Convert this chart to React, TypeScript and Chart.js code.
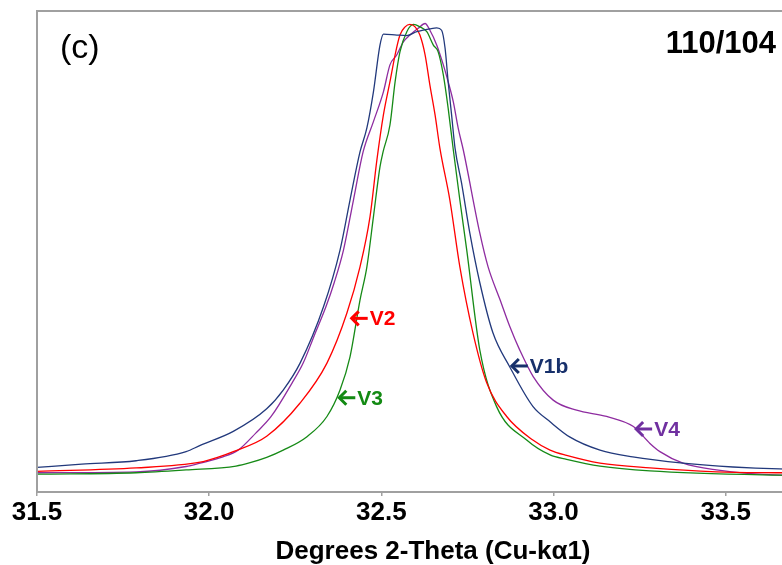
import React, { useEffect, useRef } from "react";
import { Chart, registerables } from "chart.js";

Chart.register(...registerables);

// ---- axis ticks ----
const xTickValues = [31.5, 32.0, 32.5, 33.0, 33.5];
const xTickLabels = ["31.5", "32.0", "32.5", "33.0", "33.5"];

// ---- series names ----
const seriesNames = ["V1b", "V2", "V3", "V4"];

// ---- V1b ----
const xV1b = [31.5, 31.63, 31.788, 31.933, 31.974, 32.07, 32.167, 32.215, 32.264, 32.332, 32.38, 32.409, 32.438, 32.458, 32.477, 32.496, 32.506, 32.545, 32.574, 32.603, 32.641, 32.661, 32.675, 32.685, 32.694, 32.704, 32.714, 32.733, 32.757, 32.786, 32.824, 32.873, 32.94, 32.99, 33.048, 33.135, 33.23, 33.376, 33.521, 33.657, 33.8];
const yV1b = [5.1, 5.8, 6.5, 8.4, 9.7, 12.6, 17.3, 21.2, 26.8, 38.5, 50.3, 60.7, 70.7, 75.7, 83.2, 92.9, 95.2, 95.0, 94.9, 95.7, 96.3, 96.5, 96.0, 92.3, 85.3, 78.4, 71.5, 64.2, 53.8, 43.5, 33.1, 26.0, 17.8, 14.6, 11.4, 8.7, 7.3, 6.0, 5.2, 4.8, 4.7];

// ---- V2 ----
const xV2 = [31.5, 31.788, 31.974, 32.02, 32.07, 32.167, 32.264, 32.342, 32.4, 32.438, 32.467, 32.487, 32.506, 32.525, 32.54, 32.554, 32.569, 32.583, 32.598, 32.612, 32.627, 32.641, 32.656, 32.67, 32.699, 32.728, 32.766, 32.806, 32.864, 32.94, 32.99, 33.038, 33.135, 33.28, 33.473, 33.657, 33.8];
const yV2 = [4.3, 5.0, 6.2, 7.1, 8.4, 11.6, 18.5, 26.8, 37.2, 46.8, 57.2, 69.0, 78.4, 85.3, 90.9, 95.0, 96.7, 97.2, 96.7, 95.0, 90.9, 84.6, 78.4, 71.5, 60.7, 46.8, 33.1, 22.7, 15.7, 10.8, 8.7, 7.6, 6.0, 5.0, 4.2, 4.0, 3.9];

// ---- V3 ----
const xV3 = [31.5, 31.788, 31.933, 32.078, 32.119, 32.167, 32.215, 32.284, 32.342, 32.38, 32.409, 32.438, 32.458, 32.477, 32.496, 32.505, 32.525, 32.54, 32.554, 32.574, 32.593, 32.612, 32.632, 32.651, 32.665, 32.68, 32.694, 32.709, 32.728, 32.748, 32.786, 32.835, 32.922, 32.99, 33.038, 33.135, 33.28, 33.657, 33.8];
const yV3 = [3.7, 4.0, 4.6, 5.4, 6.1, 7.2, 8.7, 11.5, 15.7, 21.2, 28.1, 39.9, 46.8, 57.2, 67.6, 70.7, 76.3, 85.3, 91.5, 95.7, 97.2, 96.7, 95.7, 92.9, 91.5, 86.7, 79.8, 71.1, 60.7, 50.3, 29.5, 17.7, 10.8, 7.7, 6.8, 5.4, 4.4, 3.5, 3.4];

// ---- V4 ----
const xV4 = [31.5, 31.788, 31.933, 31.974, 32.04, 32.084, 32.136, 32.18, 32.241, 32.273, 32.305, 32.339, 32.363, 32.39, 32.419, 32.447, 32.477, 32.506, 32.525, 32.545, 32.564, 32.583, 32.607, 32.627, 32.641, 32.661, 32.68, 32.694, 32.709, 32.723, 32.738, 32.786, 32.81, 32.845, 32.873, 32.902, 32.941, 32.999, 33.067, 33.154, 33.232, 33.28, 33.309, 33.376, 33.473, 33.657, 33.8];
const yV4 = [4.0, 4.2, 5.3, 6.0, 7.3, 8.7, 12.3, 15.7, 22.7, 26.8, 32.5, 38.5, 43.5, 50.3, 60.7, 70.7, 77.0, 83.2, 88.8, 90.9, 93.6, 95.0, 96.4, 97.4, 96.0, 92.9, 88.8, 85.3, 81.1, 75.7, 71.1, 53.8, 46.8, 39.9, 34.4, 29.5, 24.0, 19.1, 17.0, 15.7, 13.6, 10.1, 8.4, 6.0, 4.6, 3.5, 3.4];

const FONT = "'Liberation Sans', Arial, Helvetica, sans-serif";

const lineColors = ["#22397c", "#ff0000", "#168a16", "#8e2ca0"];
const labelColors = ["#17306b", "#ff0000", "#138a13", "#7030a0"];

// label anchors (data coordinates of arrow tips) for V1b, V2, V3, V4
const labelAnchors = {
  x: [32.876, 32.411, 32.375, 33.237],
  y: [26.2, 36.1, 19.6, 13.1],
};

const decorPlugin = {
  id: "decor",
  afterDraw(chart: any) {
    const { ctx, chartArea: a, scales } = chart;
    ctx.save();
    // left and top frame
    ctx.strokeStyle = "#a0a0a0";
    ctx.lineWidth = 2;
    ctx.beginPath();
    ctx.moveTo(a.left, a.bottom);
    ctx.lineTo(a.left, a.top);
    ctx.lineTo(a.right, a.top);
    ctx.stroke();

    // series labels with arrows
    seriesNames.forEach((name, i) => {
      const px = scales.x.getPixelForValue(labelAnchors.x[i]);
      const py = scales.y.getPixelForValue(labelAnchors.y[i]);
      ctx.strokeStyle = labelColors[i];
      ctx.fillStyle = labelColors[i];
      ctx.lineWidth = 3;
      ctx.lineCap = "butt";
      ctx.beginPath();
      ctx.moveTo(px + 1, py);
      ctx.lineTo(px + 17, py);
      ctx.stroke();
      ctx.beginPath();
      ctx.moveTo(px + 8, py - 7);
      ctx.lineTo(px + 1, py);
      ctx.lineTo(px + 8, py + 7);
      ctx.stroke();
      ctx.font = `bold 21px ${FONT}`;
      ctx.textAlign = "left";
      ctx.textBaseline = "middle";
      ctx.fillText(name, px + 19, py + 1);
    });

    // panel label and reflection label
    ctx.fillStyle = "#000";
    ctx.font = `34px ${FONT}`;
    ctx.textAlign = "left";
    ctx.textBaseline = "alphabetic";
    ctx.fillText("(c)", a.left + 23, 58);
    ctx.font = `bold 31px ${FONT}`;
    ctx.textAlign = "right";
    ctx.fillText("110/104", 776, 53);
    ctx.restore();
  },
};

export default function App() {
  const ref = useRef<HTMLCanvasElement | null>(null);

  useEffect(() => {
    if (!ref.current) return;
    const xs = [xV1b, xV2, xV3, xV4];
    const ys = [yV1b, yV2, yV3, yV4];
    const chart = new Chart(ref.current, {
      type: "line",
      data: {
        datasets: seriesNames.map((name, i) => ({
          label: name,
          data: xs[i].map((x, j) => ({ x, y: ys[i][j] })),
          borderColor: lineColors[i],
          borderWidth: 1.3,
          pointRadius: 0,
          fill: false,
          cubicInterpolationMode: "monotone" as const,
        })),
      },
      options: {
        animation: false,
        responsive: false,
        devicePixelRatio: 1,
        layout: { padding: { left: 37, top: 11, right: 1, bottom: 0 } },
        plugins: { legend: { display: false }, tooltip: { enabled: false } },
        scales: {
          x: {
            type: "linear",
            min: 31.5,
            max: 33.8,
            afterBuildTicks: (s: any) => {
              s.ticks = xTickValues.map((v) => ({ value: v }));
            },
            ticks: {
              callback: (_v: any, i: number) => xTickLabels[i] ?? "",
              font: { family: FONT, size: 26, weight: "bold", lineHeight: 1.05 },
              color: "#000",
              padding: 3,
              maxRotation: 0,
              autoSkip: false,
            },
            grid: {
              display: true,
              drawOnChartArea: false,
              drawTicks: true,
              tickLength: 4,
              color: "#a0a0a0",
              lineWidth: 1.5,
            },
            border: { display: true, color: "#a0a0a0", width: 2 },
            title: {
              display: true,
              text: "Degrees 2-Theta (Cu-kα1)",
              font: { family: FONT, size: 26, weight: "bold", lineHeight: 1.05 },
              color: "#000",
              padding: { top: 8.4, bottom: 0 },
            },
          },
          y: { type: "linear", min: 0, max: 100, display: false },
        },
      },
      plugins: [decorPlugin],
    });
    return () => chart.destroy();
  }, []);

  return (
    <div
      style={{
        position: "fixed",
        left: 0,
        top: 0,
        width: 782,
        height: 565,
        overflow: "hidden",
        background: "#fff",
      }}
    >
      <canvas ref={ref} width={830} height={565} style={{ display: "block", width: 830, height: 565 }} />
    </div>
  );
}
